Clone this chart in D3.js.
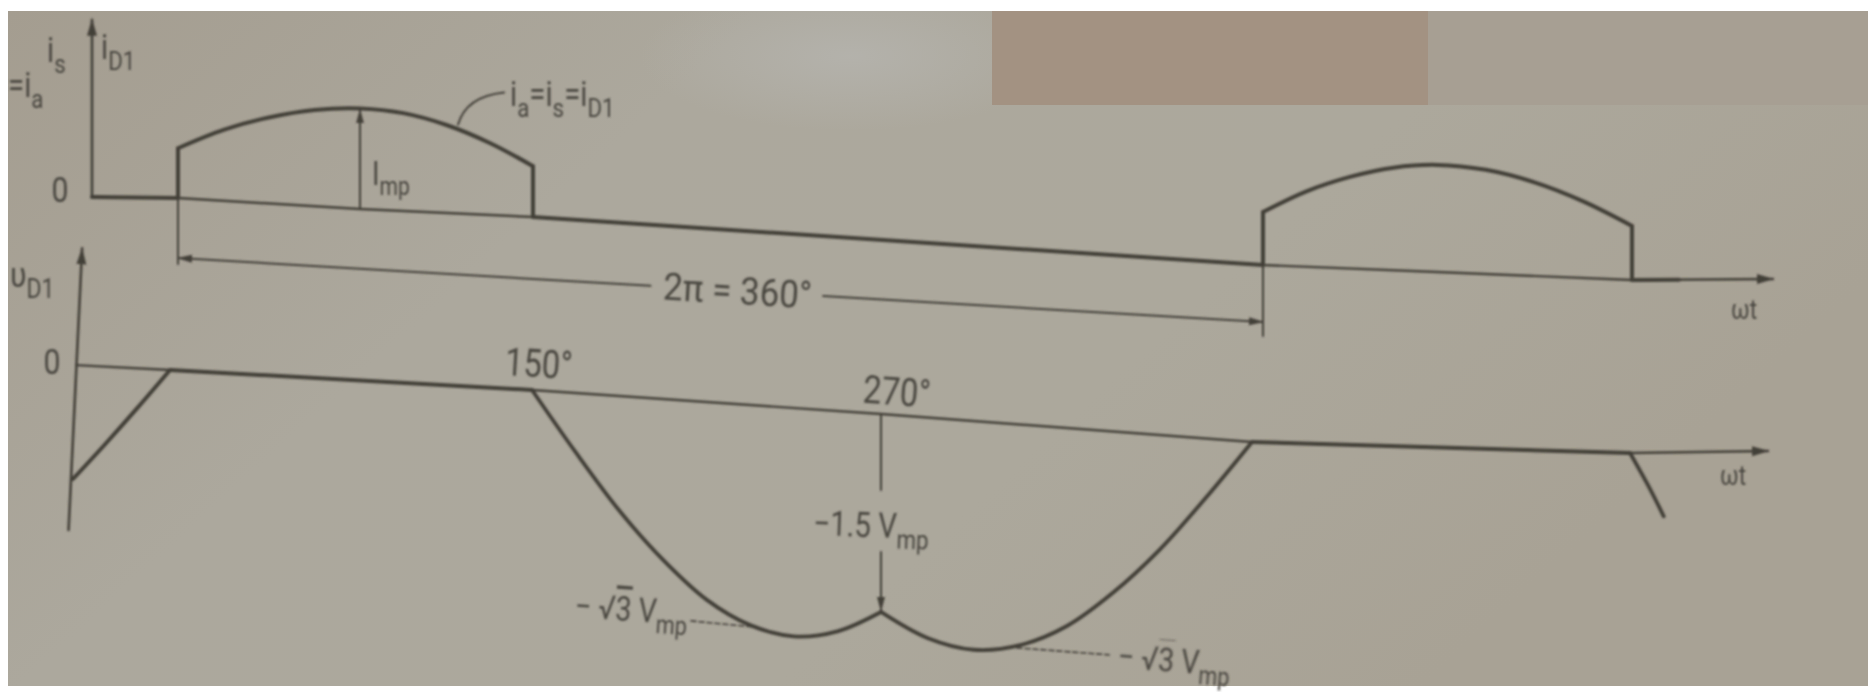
<!DOCTYPE html>
<html>
<head>
<meta charset="utf-8">
<script src="https://cdn.jsdelivr.net/npm/d3@7"></script>
<style>
  html, body { margin: 0; padding: 0; background: #ffffff; }
  svg { display: block; }
</style>
</head>
<body>
<svg id="fig" width="1874" height="692"></svg>
<script>
// ---------------- data ----------------
// Source / diode current i_a = i_s = i_D1 over one conduction interval (units of I_mp)
const pulseAngles  = [30, 45, 60, 75, 90, 105, 120, 135, 150];
const pulseCurrent = [0.50, 0.71, 0.86, 0.96, 1.00, 0.97, 0.87, 0.71, 0.50];
const pulseStarts  = [0, 360];             // the two conduction intervals drawn

// Diode voltage v_D1 (units of V_mp), one array pair per piece of the waveform
const vRiseAngles = [0, 10, 20, 30];
const vRiseValues = [-0.87, -0.59, -0.30, 0];
const vAbAngles   = [150, 165, 180, 195, 210, 225, 240, 255, 270];
const vAbValues   = [0, -0.45, -0.87, -1.22, -1.50, -1.67, -1.732, -1.67, -1.50];
const vAcAngles   = [270, 285, 300, 315, 330, 345, 360, 375, 390];
const vAcValues   = [-1.50, -1.67, -1.732, -1.67, -1.50, -1.22, -0.87, -0.45, 0];
const vTailAngles = [510, 516, 521];
const vTailValues = [0, -0.25, -0.48];
const vZeroSpans  = [[30, 150], [390, 510]];

// Marked angles and levels
const markAngles   = [150, 270];
const markLabels   = ['150°', '270°'];
const cuspAngle    = 270;
const cuspValue    = -1.5;
const minValue     = -1.732;
const peakAngle    = 90;
const peakValue    = 1.0;
const periodSpan   = [30, 390];             // 2π = 360°

// ---------------- page geometry ----------------
const W = 1874, H = 692;
const svg = d3.select('#fig');
const defs = svg.append('defs');

const ink = '#433f39';
const textInk = '#4a4741';
const font = 'Roboto, "Liberation Sans", sans-serif';
const squeeze = 0.84;                       // condensed lettering

// upper panel: angle -> x, baseline and amplitude
const topX    = d3.scaleLinear().domain([0, 30, 90, 150, 390, 450, 510, 555])
                                .range([92, 178, 360, 533, 1263, 1437, 1632, 1773]);
const topBase = d3.scaleLinear().domain([0, 30, 90, 150, 390, 450, 510, 555])
                                .range([197, 198, 209, 217, 265, 272, 280, 279]);
const topAmp  = d3.scaleLinear().domain([0, 555]).range([99, 109]);

// lower panel
const lowX    = d3.scaleLinear().domain([0, 30, 150, 270, 390, 510, 555])
                                .range([73, 170, 532, 881, 1252, 1630, 1768]);
const lowBase = d3.scaleLinear().domain([0, 30, 150, 270, 390, 510, 555])
                                .range([365, 370, 390, 414, 442, 453, 451]);
const lowAmp  = d3.scaleLinear().domain([0, 555]).range([131, 133]);

const makeP = (X, B, A) => (th, v) => [X(th), B(th) - A(th) * v];
const P1 = makeP(topX, topBase, topAmp);
const P2 = makeP(lowX, lowBase, lowAmp);
const slopeDeg = (X, B, th) =>
  Math.atan2(B(th + 6) - B(th - 6), X(th + 6) - X(th - 6)) * 180 / Math.PI;

// straight run along the zero line, passing through the panel's knots
function zeroRun(X, P, a, b) {
  const knots = X.domain().filter(d => d > a && d < b);
  return [a, ...knots, b].map(t => P(t, 0));
}

// ---------------- background ----------------
const paper = defs.append('linearGradient').attr('id', 'paper')
  .attr('x1', 0).attr('y1', 0).attr('x2', 1).attr('y2', 0.4);
paper.append('stop').attr('offset', 0).attr('stop-color', '#a49d90');
paper.append('stop').attr('offset', 0.35).attr('stop-color', '#aca89d');
paper.append('stop').attr('offset', 0.7).attr('stop-color', '#aca89c');
paper.append('stop').attr('offset', 1).attr('stop-color', '#a8a295');

const glow = defs.append('radialGradient').attr('id', 'glow')
  .attr('cx', 0.5).attr('cy', 0.3).attr('r', 0.5);
glow.append('stop').attr('offset', 0).attr('stop-color', '#b6b5b0').attr('stop-opacity', 0.75);
glow.append('stop').attr('offset', 1).attr('stop-color', '#b6b5b0').attr('stop-opacity', 0);

svg.append('rect').attr('width', W).attr('height', H).attr('fill', '#ffffff');
svg.append('rect').attr('x', 8).attr('y', 11).attr('width', W - 14).attr('height', 675)
  .attr('fill', 'url(#paper)');
svg.append('rect').attr('x', 640).attr('y', 11).attr('width', 420).attr('height', 150)
  .attr('fill', 'url(#glow)');
// darker strip along the top right of the photographed page
svg.append('rect').attr('x', 992).attr('y', 11).attr('width', 436).attr('height', 94)
  .attr('fill', '#a39282');
svg.append('rect').attr('x', 1428).attr('y', 11).attr('width', W - 14 - 1420).attr('height', 94)
  .attr('fill', '#a79f93');

// soft focus of the photograph
const blur = defs.append('filter').attr('id', 'soft')
  .attr('x', -0.05).attr('y', -0.05).attr('width', 1.1).attr('height', 1.1);
blur.append('feGaussianBlur').attr('stdDeviation', 0.9);

// arrowheads
defs.append('marker').attr('id', 'arrow')
  .attr('markerUnits', 'userSpaceOnUse').attr('markerWidth', 18).attr('markerHeight', 12)
  .attr('refX', 16).attr('refY', 6).attr('orient', 'auto')
  .append('path').attr('d', 'M0,1 L17,6 L0,11 Z').attr('fill', ink);
defs.append('marker').attr('id', 'arrowSmall')
  .attr('markerUnits', 'userSpaceOnUse').attr('markerWidth', 16).attr('markerHeight', 10)
  .attr('refX', 14).attr('refY', 5).attr('orient', 'auto')
  .append('path').attr('d', 'M0,1 L15,5 L0,9 Z').attr('fill', ink);

const g = svg.append('g').attr('filter', 'url(#soft)');
const straight = d3.line();
const smooth = d3.line().curve(d3.curveCatmullRom.alpha(0.5));

function stroke(sel, w) {
  return sel.attr('fill', 'none').attr('stroke', ink).attr('stroke-width', w)
    .attr('stroke-linecap', 'round').attr('stroke-linejoin', 'round');
}

// text with sub-scripts and over-bars, in condensed lettering
function label(x, y, rot, parts, size, anchor, sx) {
  const t = g.append('text')
    .attr('transform', `translate(${x},${y}) rotate(${rot}) scale(${sx || squeeze},1)`)
    .attr('font-family', font).attr('font-size', size)
    .attr('fill', textInk).attr('text-anchor', anchor || 'start');
  let shift = 0;
  parts.forEach(p => {
    const ts = t.append('tspan').text(p.t);
    const target = p.sub ? size * 0.3 : 0;
    if (target !== shift) { ts.attr('dy', target - shift); shift = target; }
    if (p.sub) ts.attr('font-size', size * 0.76);
    if (p.over) ts.style('text-decoration', 'overline');
    if (p.dx) ts.attr('dx', p.dx);
  });
  return t;
}

// ---------------- upper panel: current ----------------
// vertical axis
stroke(g.append('path'), 2.6).attr('d', straight([P1(0, 0), P1(0, 1.79)]))
  .attr('marker-end', 'url(#arrow)');
// ωt axis
stroke(g.append('path'), 2.4).attr('d', straight(zeroRun(topX, P1, 0, 555)))
  .attr('marker-end', 'url(#arrow)');

// waveform: zero runs, vertical edges and sinusoidal caps
const gapsTop = [[0, 30], [150, 390], [510, 525]];
gapsTop.forEach(([a, b]) => stroke(g.append('path'), 4).attr('d', straight(zeroRun(topX, P1, a, b))));
pulseStarts.forEach(s => {
  const a = pulseAngles[0] + s, b = pulseAngles[pulseAngles.length - 1] + s;
  stroke(g.append('path'), 4).attr('d', straight([P1(a, 0), P1(a, pulseCurrent[0])]));
  stroke(g.append('path'), 4)
    .attr('d', smooth(pulseAngles.map((t, i) => P1(t + s, pulseCurrent[i]))));
  stroke(g.append('path'), 4)
    .attr('d', straight([P1(b, pulseCurrent[pulseCurrent.length - 1]), P1(b, 0)]));
});

// I_mp dimension arrow
stroke(g.append('path'), 2).attr('d', straight([P1(peakAngle, 0), P1(peakAngle, peakValue - 0.01)]))
  .attr('marker-end', 'url(#arrowSmall)');
{
  const [x, y] = P1(peakAngle, 0.24);
  label(x + 12, y, 0, [{ t: 'I' }, { t: 'mp', sub: true }], 33);
}

// leader to the waveform name
{
  const [x0, y0] = P1(124, 0.84);
  const path = d3.path();
  path.moveTo(x0, y0 - 4);
  path.quadraticCurveTo(x0 + 8, y0 - 32, x0 + 46, y0 - 36);
  stroke(g.append('path'), 2).attr('d', path.toString());
  label(x0 + 52, y0 - 22, 0,
    [{ t: 'i' }, { t: 'a', sub: true }, { t: '=i' }, { t: 's', sub: true }, { t: '=i' }, { t: 'D1', sub: true }], 35);
}

// axis titles
label(47, 62, 0, [{ t: 'i' }, { t: 's', sub: true }], 35);
label(101, 59, 0, [{ t: 'i' }, { t: 'D1', sub: true }], 35);
label(8, 97, 0, [{ t: '=i' }, { t: 'a', sub: true }], 35);
{
  const [x, y] = P1(0, 0);
  label(x - 32, y + 5, 0, [{ t: '0' }], 36, 'middle');
}

// 2π = 360° period dimension
{
  const [xa, ya] = P1(periodSpan[0], 0);
  const [xb, yb] = P1(periodSpan[1], 0);
  stroke(g.append('path'), 2).attr('d', straight([[xa, ya], [xa, ya + 66]]));
  stroke(g.append('path'), 2).attr('d', straight([[xb, yb], [xb, yb + 71]]));
  const L = [xa, ya + 60], R = [xb, yb + 57];
  const f = 0.515;
  const cx = L[0] + (R[0] - L[0]) * f, cy = L[1] + (R[1] - L[1]) * f;
  const rot = Math.atan2(R[1] - L[1], R[0] - L[0]) * 180 / Math.PI;
  const sx = 0.92;
  const t = label(cx, cy + 13, rot, [{ t: '2π = 360°' }], 38, 'middle', sx);
  const half = t.node().getComputedTextLength() * sx / 2 + 12;
  const len = Math.hypot(R[0] - L[0], R[1] - L[1]);
  const ux = (R[0] - L[0]) / len, uy = (R[1] - L[1]) / len;
  stroke(g.append('path'), 2).attr('d', straight([[cx - ux * half, cy - uy * half], L]))
    .attr('marker-end', 'url(#arrowSmall)');
  stroke(g.append('path'), 2).attr('d', straight([[cx + ux * half, cy + uy * half], R]))
    .attr('marker-end', 'url(#arrowSmall)');
}
{
  const [x, y] = P1(555, 0);
  label(x - 42, y + 40, 0, [{ t: 'ωt' }], 27);
}

// ---------------- lower panel: diode voltage ----------------
// leaning vertical axis
{
  const foot = lowX(0) + 3.5, lean = 6.3;
  const base = lowBase(0), amp = lowAmp(0);
  const top = [foot + lean * 0.89, base - amp * 0.89];
  const bot = [foot - lean * 1.26, base + amp * 1.26];
  stroke(g.append('path'), 2.6).attr('d', straight([bot, top])).attr('marker-end', 'url(#arrow)');
}
stroke(g.append('path'), 2.4).attr('d', straight(zeroRun(lowX, P2, 1, 555)))
  .attr('marker-end', 'url(#arrow)');

// waveform
stroke(g.append('path'), 4).attr('d', smooth(vRiseAngles.map((t, i) => P2(t, vRiseValues[i]))));
vZeroSpans.forEach(([a, b]) => stroke(g.append('path'), 4).attr('d', straight(zeroRun(lowX, P2, a, b))));
stroke(g.append('path'), 3.8).attr('d', smooth(vAbAngles.map((t, i) => P2(t, vAbValues[i]))));
stroke(g.append('path'), 3.8).attr('d', smooth(vAcAngles.map((t, i) => P2(t, vAcValues[i]))));
stroke(g.append('path'), 3.8).attr('d', smooth(vTailAngles.map((t, i) => P2(t, vTailValues[i]))));

// angle marks
markAngles.forEach((a, i) => {
  const [x, y] = P2(a, 0);
  const dx = a === cuspAngle ? 15 : 6;
  const dy = a === cuspAngle ? -9 : -13;
  label(x + dx, y + dy, slopeDeg(lowX, lowBase, a), [{ t: markLabels[i] }], 39, 'middle');
});

// −1.5 V_mp arrow at the cusp, broken around its label
{
  const [x0, y0] = P2(cuspAngle, 0);
  const [x1, y1] = P2(cuspAngle, cuspValue);
  stroke(g.append('path'), 2).attr('d', straight([[x0, y0], [x0, y0 + 76]]));
  stroke(g.append('path'), 2).attr('d', straight([[x1, y0 + 138], [x1, y1 - 1]]))
    .attr('marker-end', 'url(#arrowSmall)');
  label(x0 - 68, y0 + 121, 2,
    [{ t: '−1.5 V' }, { t: 'mp', sub: true }], 35);
}

// −√3 V_mp levels at the two minima
{
  const [xl, yl] = P2(226, minValue + 0.05);
  const rl = slopeDeg(lowX, lowBase, 226);
  stroke(g.append('path'), 1.6).attr('stroke-dasharray', '5 3')
    .attr('d', straight([[xl - 62, yl - 6], [xl, yl]]));
  label(xl - 66, yl - 2, rl, [{ t: '− ' }, { t: '√' }, { t: '3', over: true }, { t: ' V' }, { t: 'mp', sub: true }], 34, 'end');

  const [xr, yr] = P2(314, minValue + 0.04);
  const rr = slopeDeg(lowX, lowBase, 314);
  stroke(g.append('path'), 1.6).attr('stroke-dasharray', '5 3')
    .attr('d', straight([[xr, yr], [xr + 92, yr + 7]]));
  label(xr + 100, yr + 20, rr, [{ t: '− ' }, { t: '√' }, { t: '3', over: true }, { t: ' V' }, { t: 'mp', sub: true }], 34);
}

// axis titles
label(10, 287, 0, [{ t: 'υ' }, { t: 'D1', sub: true }], 36);
{
  const [x, y] = P2(0, 0);
  label(x - 21, y + 9, 0, [{ t: '0' }], 36, 'middle');
}
{
  const [x, y] = P2(555, 0);
  label(x - 48, y + 34, 0, [{ t: 'ωt' }], 27);
}
</script>
</body>
</html>
